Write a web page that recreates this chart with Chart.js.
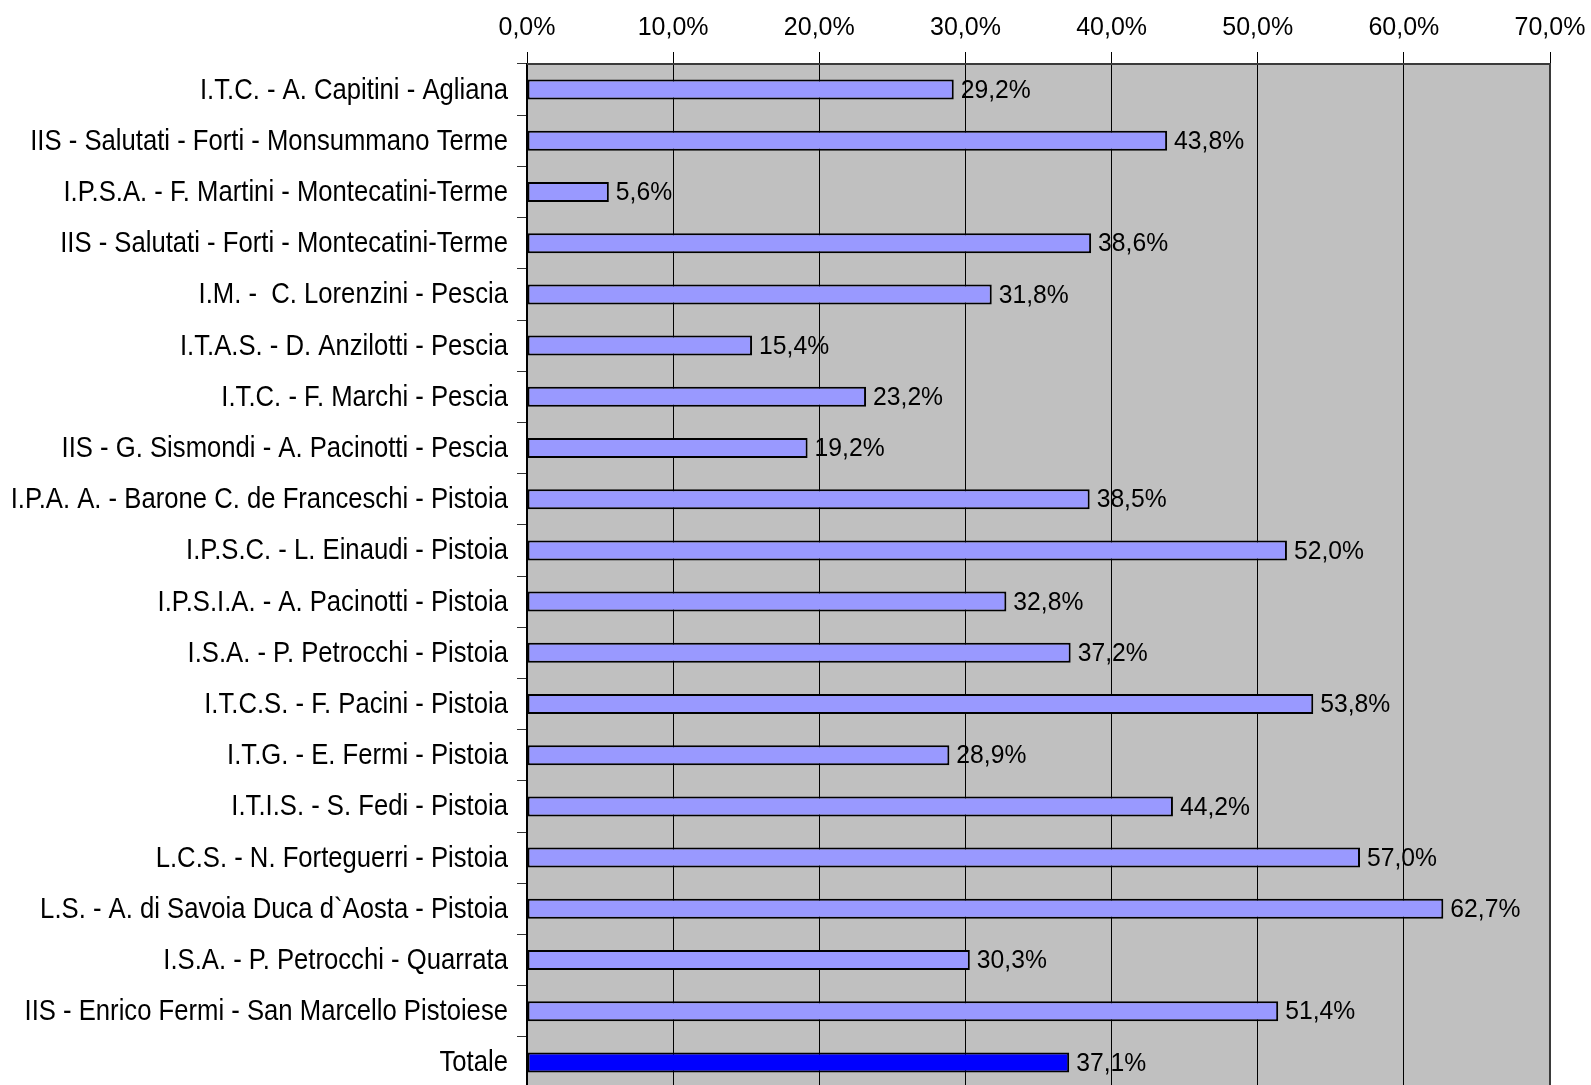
<!DOCTYPE html>
<html>
<head>
<meta charset="utf-8">
<script src="https://cdn.jsdelivr.net/npm/chart.js@4/dist/chart.umd.min.js"></script>
<style>
html,body{margin:0;padding:0;background:#fff;overflow:hidden;}
#wrap{position:relative;width:1591px;height:1090px;}
</style>
</head>
<body>
<div id="wrap"><canvas id="c" width="1591" height="1090"></canvas></div>
<script>
const categories = [
  "I.T.C. - A. Capitini - Agliana",
  "IIS - Salutati - Forti - Monsummano Terme",
  "I.P.S.A. - F. Martini - Montecatini-Terme",
  "IIS - Salutati - Forti - Montecatini-Terme",
  "I.M. -  C. Lorenzini - Pescia",
  "I.T.A.S. - D. Anzilotti - Pescia",
  "I.T.C. - F. Marchi - Pescia",
  "IIS - G. Sismondi - A. Pacinotti - Pescia",
  "I.P.A. A. - Barone C. de Franceschi - Pistoia",
  "I.P.S.C. - L. Einaudi - Pistoia",
  "I.P.S.I.A. - A. Pacinotti - Pistoia",
  "I.S.A. - P. Petrocchi - Pistoia",
  "I.T.C.S. - F. Pacini - Pistoia",
  "I.T.G. - E. Fermi - Pistoia",
  "I.T.I.S. - S. Fedi - Pistoia",
  "L.C.S. - N. Forteguerri - Pistoia",
  "L.S. - A. di Savoia Duca d`Aosta - Pistoia",
  "I.S.A. - P. Petrocchi - Quarrata",
  "IIS - Enrico Fermi - San Marcello Pistoiese",
  "Totale"
];
const values = [29.2, 43.8, 5.6, 38.6, 31.8, 15.4, 23.2, 19.2, 38.5, 52.0, 32.8, 37.2, 53.8, 28.9, 44.2, 57.0, 62.7, 30.3, 51.4, 37.1];
const xTicks = [0, 10, 20, 30, 40, 50, 60, 70];

const fmt = v => v.toFixed(1).replace('.', ',') + '%';
const barColors = categories.map(c => c === 'Totale' ? '#0000ff' : '#9999ff');
const FONT = '"Liberation Sans", Arial, sans-serif';

const plotBg = {
  id: 'plotBg',
  beforeDraw(chart) {
    const {ctx, chartArea: a} = chart;
    ctx.save();
    ctx.fillStyle = '#c0c0c0';
    ctx.fillRect(a.left, a.top, a.right - a.left, a.bottom - a.top);
    ctx.restore();
  },
  afterDraw(chart) {
    const {ctx, chartArea: a} = chart;
    ctx.save();
    ctx.strokeStyle = '#3a3a3a';
    ctx.lineWidth = 2;
    ctx.beginPath();
    ctx.moveTo(a.left, a.top);
    ctx.lineTo(a.right, a.top);
    ctx.lineTo(a.right, a.bottom);
    ctx.stroke();
    ctx.restore();
  }
};

// category labels drawn at the y scale's tick positions, horizontally condensed
const catLabels = {
  id: 'catLabels',
  afterDraw(chart) {
    const {ctx} = chart;
    const ys = chart.scales.y;
    ctx.save();
    ctx.font = '29px ' + FONT;
    ctx.fillStyle = '#000';
    ctx.textAlign = 'right';
    ctx.textBaseline = 'middle';
    categories.forEach((c, i) => {
      const y = ys.getPixelForTick(i);
      ctx.save();
      ctx.translate(ys.right - 19, y + 1);
      ctx.scale(0.885, 1);
      ctx.fillText(c, 0, 0);
      ctx.restore();
    });
    ctx.restore();
  }
};

const valueLabels = {
  id: 'valueLabels',
  afterDatasetsDraw(chart) {
    const {ctx} = chart;
    const meta = chart.getDatasetMeta(0);
    ctx.save();
    ctx.font = '26px ' + FONT;
    ctx.fillStyle = '#000';
    ctx.textAlign = 'left';
    ctx.textBaseline = 'middle';
    meta.data.forEach((bar, i) => {
      ctx.save();
      ctx.translate(bar.x + 7, bar.y + 1);
      ctx.scale(0.95, 1);
      ctx.fillText(fmt(values[i]), 0, 0);
      ctx.restore();
    });
    ctx.restore();
  }
};

new Chart(document.getElementById('c'), {
  type: 'bar',
  data: {
    labels: categories,
    datasets: [{
      data: values,
      backgroundColor: barColors,
      borderColor: '#000',
      borderWidth: 2,
      borderSkipped: false,
      barPercentage: 0.39,
      categoryPercentage: 1.0
    }]
  },
  options: {
    indexAxis: 'y',
    responsive: false,
    animation: false,
    devicePixelRatio: 1,
    layout: {padding: {left: 0, right: 41, top: 0, bottom: 2}},
    plugins: {legend: {display: false}, tooltip: {enabled: false}},
    scales: {
      x: {
        position: 'top',
        min: 0, max: 70,
        afterBuildTicks(scale) { scale.ticks = xTicks.map(v => ({value: v})); },
        afterFit(scale) {
          scale.height = 64;
          scale.paddingLeft = 0;
          scale.paddingRight = 0;
        },
        ticks: {
          callback: v => fmt(v),
          color: '#000',
          font: {family: FONT, size: 25},
          padding: 9,
          maxRotation: 0
        },
        grid: {color: '#000', lineWidth: 1, drawTicks: true, tickLength: 12, tickColor: '#000'},
        border: {display: false}
      },
      y: {
        afterFit(scale) { scale.width = 527; },
        ticks: {display: false, autoSkip: false},
        grid: {drawOnChartArea: false, drawTicks: true, tickLength: 10, tickColor: '#333', offset: true},
        border: {display: true, color: '#000', width: 2}
      }
    }
  },
  plugins: [plotBg, valueLabels, catLabels]
});
</script>
</body>
</html>
